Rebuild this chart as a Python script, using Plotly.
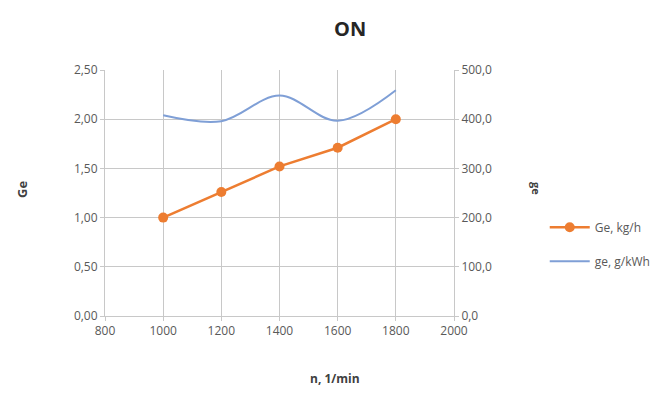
import plotly.graph_objects as go

n = [1000, 1200, 1400, 1600, 1800]
Ge = [1.00, 1.26, 1.52, 1.71, 2.00]
ge = [408, 396, 448, 397, 459]

FONT = "Open Sans"
GRAY = "#595959"
GRID = "#c8c8c8"

fig = go.Figure()
fig.add_trace(go.Scatter(x=n, y=Ge, name="Ge, kg/h", mode="lines+markers", legendgroup="a",
                         line=dict(color="#ED7D31", width=2.5),
                         marker=dict(size=10, color="#ED7D31")))
fig.add_trace(go.Scatter(x=n, y=ge, name="ge, g/kWh", mode="lines", yaxis="y2", legendgroup="b",
                         line=dict(color="#7F9FD6", width=2, shape="spline", smoothing=1)))

fig.update_layout(
    width=672, height=394,
    margin=dict(l=105, r=218, t=70, b=78),
    paper_bgcolor="white", plot_bgcolor="white",
    separators=",.",
    font=dict(family=FONT, color=GRAY, size=12),
    showlegend=True,
    legend=dict(x=1.26, y=0.42, xanchor="left", yanchor="top",
                font=dict(size=12, color=GRAY), bgcolor="rgba(0,0,0,0)",
                tracegroupgap=15, itemwidth=40),
    xaxis=dict(range=[800, 2000], dtick=200, tickformat="d",
               showgrid=True, gridcolor=GRID, gridwidth=1,
               showline=True, linecolor=GRID, ticks="outside", tickcolor=GRID, ticklen=4,
               zeroline=False, tickfont=dict(size=12, color=GRAY)),
    yaxis=dict(range=[0, 2.5], dtick=0.5, tickformat=".2f",
               showgrid=True, gridcolor=GRID, gridwidth=1,
               showline=True, linecolor=GRID, ticks="outside", tickcolor=GRID, ticklen=4,
               zeroline=False, tickfont=dict(size=12, color=GRAY)),
    yaxis2=dict(range=[0, 500], dtick=100, tickformat=".1f", overlaying="y", side="right",
                showgrid=False, showline=True, linecolor=GRID, ticks="outside",
                tickcolor=GRID, ticklen=4, zeroline=False,
                tickfont=dict(size=12, color=GRAY)),
    annotations=[
        dict(text="<b>ON</b>", xref="paper", yref="paper", x=(350-105)/349, y=1+(70-28)/246,
             showarrow=False, font=dict(size=20, color="#262626", family=FONT),
             xanchor="center", yanchor="middle"),
        dict(text="<b>Ge</b>", xref="paper", yref="paper", x=(22-105)/349, y=(316-190)/246,
             showarrow=False, textangle=-90, font=dict(size=13, color="#404040", family=FONT),
             xanchor="center", yanchor="middle"),
        dict(text="<b>ge</b>", xref="paper", yref="paper", x=(537-105)/349, y=(316-188)/246,
             showarrow=False, textangle=90, font=dict(size=11, color="#404040", family=FONT),
             xanchor="center", yanchor="middle"),
        dict(text="<b>n, 1/min</b>", xref="paper", yref="paper", x=(335-105)/349, y=-(378-316)/246,
             showarrow=False, font=dict(size=12, color="#404040", family=FONT),
             xanchor="center", yanchor="middle"),
    ],
)

fig.write_html("out.html")
